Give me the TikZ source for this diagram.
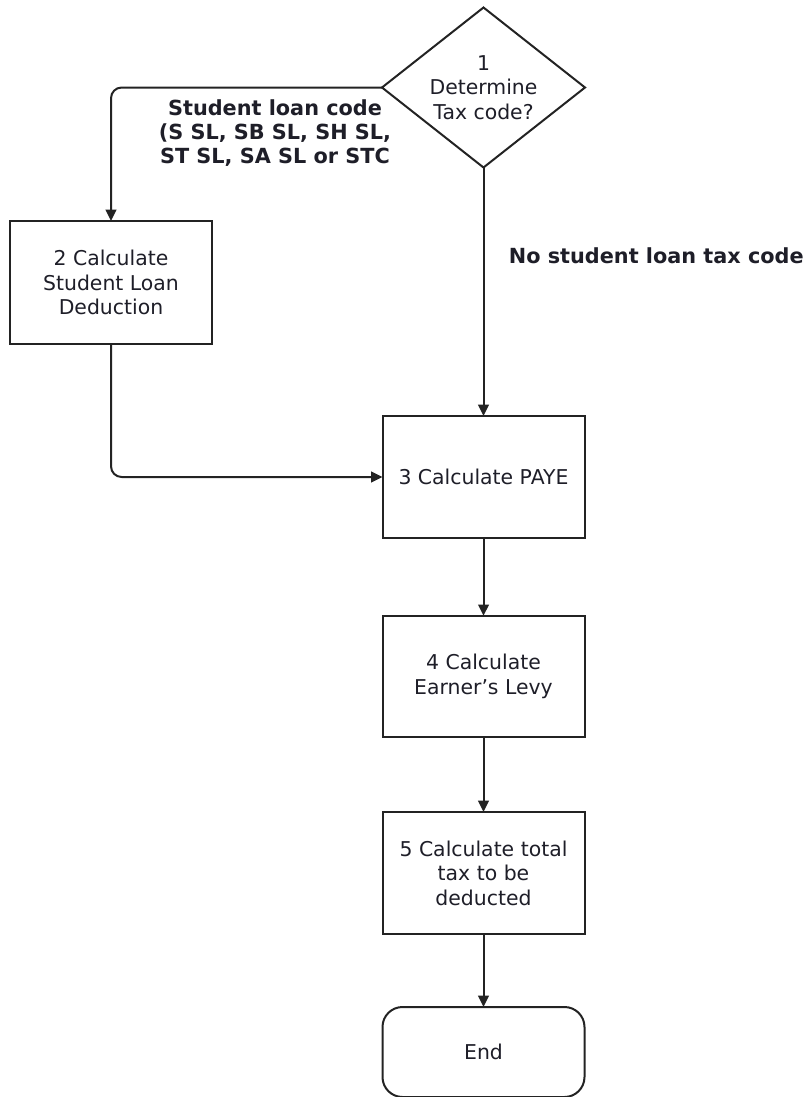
\documentclass[tikz,border=0pt]{standalone}
\usepackage{fontspec}
\setmainfont{DejaVu Sans}
\usetikzlibrary{shapes.geometric,arrows.meta}
\definecolor{linec}{RGB}{35,35,35}
\definecolor{textc}{RGB}{30,30,40}
\tikzset{
  every node/.style={font=\fontsize{15.3}{18.3}\selectfont, text=textc},
  procbox/.style={draw=linec, line width=1.5pt, rectangle, inner sep=0pt, outer sep=0pt,
    minimum width=151.5pt, align=center},
  endbox/.style={draw=linec, line width=1.5pt, rectangle, rounded corners=15pt, inner sep=0pt,
    outer sep=0pt, minimum width=151.5pt, minimum height=67.5pt, align=center},
  decbox/.style={draw=linec, line width=1.5pt, diamond, inner sep=0pt, outer sep=0pt,
    minimum width=152.25pt, minimum height=120pt},
  flow/.style={draw=linec, line width=1.5pt, -{Triangle[length=8.5pt,width=8pt]}},
  lbl/.style={font=\fontsize{15.6}{18.3}\selectfont\bfseries, align=center}
}
\begin{document}
\begin{tikzpicture}[x=0.75pt,y=-0.75pt]
\useasboundingbox (0,0) rectangle (808,1097);
\node[decbox, label={[align=center, text=textc, name=d1t]center:1\\Determine\\Tax code?}] (d1) at (483.5,87.5) {};
\node[procbox, minimum height=92.25pt] (b2) at (111,282.5) {2 Calculate\\Student Loan\\Deduction};
\node[procbox, minimum height=91.5pt] (b3) at (483.5,477) {3 Calculate PAYE};
\node[procbox, minimum height=91pt] (b4) at (483.5,676.5) {4 Calculate\\Earner’s Levy};
\node[procbox, minimum height=91.5pt] (b5) at (483.5,873) {5 Calculate total\\tax to be\\deducted};
\node[endbox] (e) at (483.5,1052) {End};
\node[lbl] (l1) at (275,133) {Student loan code\\(S SL, SB SL, SH SL,\\ST SL, SA SL or STC};
\node[lbl, anchor=east, inner xsep=0pt] (l2) at (804,256) {No student loan tax code};
\draw[flow, rounded corners=8pt] (d1.west) -| (b2.north);
\draw[flow, rounded corners=8pt] (b2.south) |- (b3.west);
\draw[flow] (d1.south) -- (b3.north);
\draw[flow] (b3.south) -- (b4.north);
\draw[flow] (b4.south) -- (b5.north);
\draw[flow] (b5.south) -- (e.north);
\end{tikzpicture}
\end{document}
